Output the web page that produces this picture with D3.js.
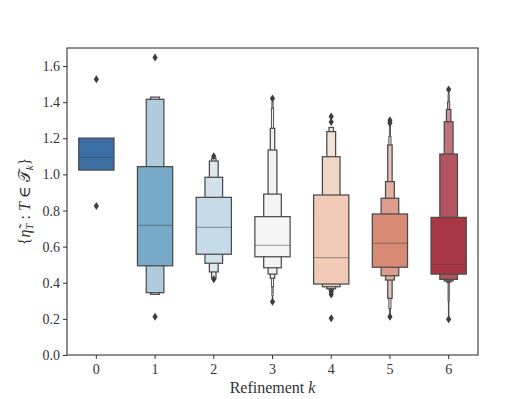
<!DOCTYPE html>
<html>
<head>
<meta charset="utf-8">
<script src="https://cdn.jsdelivr.net/npm/d3@7"></script>
<style>
  body { margin: 0; background: #fff; }
  text { font-family: "Liberation Serif", "DejaVu Serif", serif; }
</style>
</head>
<body>
<svg id="chart" width="531" height="399"></svg>
<script>
  // letter-value plot, one entry per refinement level
  var categories = ['0', '1', '2', '3', '4', '5', '6']
  var palette = ['#3a6ea5', '#76aac8', '#c5dbe8', '#f5f5f5', '#f1cbb6', '#d88a75', '#a83644']
  var medians = [1.094, 0.718, 0.707, 0.607, 0.539, 0.618, 0.502]

  // box ends from the innermost box outward
  var boxLows = [
    [1.024],
    [0.494, 0.345, 0.336],
    [0.558, 0.508, 0.460, 0.425],
    [0.544, 0.483, 0.448, 0.425, 0.378, 0.33, 0.30],
    [0.393, 0.378, 0.367, 0.36],
    [0.486, 0.439, 0.415, 0.314, 0.258, 0.22],
    [0.448, 0.419, 0.410, 0.405, 0.40, 0.30, 0.21]
  ]
  var boxHighs = [
    [1.201],
    [1.043, 1.416, 1.428],
    [0.873, 0.984, 1.074, 1.089],
    [0.766, 0.891, 1.135, 1.255, 1.366, 1.40, 1.41],
    [0.886, 1.098, 1.237, 1.26],
    [0.781, 0.868, 0.960, 1.163, 1.209, 1.29],
    [0.762, 1.113, 1.292, 1.360, 1.402, 1.44, 1.46]
  ]
  var outliers = [
    [1.527, 0.825],
    [1.648, 0.212],
    [1.10, 0.42],
    [1.42, 0.295],
    [1.32, 1.29, 0.35, 0.335, 0.203],
    [1.30, 1.285, 0.212],
    [1.47, 0.198]
  ]
  var yTicks = [0.0, 0.2, 0.4, 0.6, 0.8, 1.0, 1.2, 1.4, 1.6]

  var margin = { top: 48, right: 53, bottom: 44, left: 67 }
  var svg = d3.select('#chart')
  var width = +svg.attr('width') - margin.left - margin.right
  var height = +svg.attr('height') - margin.top - margin.bottom
  var g = svg.append('g').attr('transform', 'translate(' + margin.left + ',' + margin.top + ')')

  var x = d3.scaleBand().domain(categories).range([0, width]).padding(0)
  var y = d3.scaleLinear().domain([0, 1.7]).range([height, 0])

  var edge = '#4a4a4a'
  var serif = '"Liberation Serif", "DejaVu Serif", serif'

  function levelColor (base, i, n) {
    var light = d3.hsl(base)
    light.l = 0.93
    light.s = light.s * 0.4
    var t = n > 1 ? i / (n - 1) : 0
    return d3.interpolateRgb(base, light.toString())(t)
  }

  categories.forEach(function (c, ci) {
    var cx = x(c) + x.bandwidth() / 2
    var lows = boxLows[ci]
    var highs = boxHighs[ci]
    var n = lows.length
    var cg = g.append('g')
    // draw outer boxes first so the inner ones sit on top
    for (var i = n - 1; i >= 0; i--) {
      var w = x.bandwidth() * 0.6 * Math.pow(2, -i)
      cg.append('rect')
        .attr('x', cx - w / 2)
        .attr('width', w)
        .attr('y', y(highs[i]))
        .attr('height', y(lows[i]) - y(highs[i]))
        .attr('fill', levelColor(palette[ci], i, n))
        .attr('stroke', edge)
        .attr('stroke-width', w < 3 ? 0.9 : 1.25)
    }
    var mw = x.bandwidth() * 0.6
    cg.append('line')
      .attr('x1', cx - mw / 2)
      .attr('x2', cx + mw / 2)
      .attr('y1', y(medians[ci]))
      .attr('y2', y(medians[ci]))
      .attr('stroke', edge)
      .attr('stroke-opacity', 0.45)
      .attr('stroke-width', 1.25)
    cg.selectAll('path.out')
      .data(outliers[ci])
      .enter().append('path')
      .attr('class', 'out')
      .attr('d', 'M0,-4L2.6,0L0,4L-2.6,0Z')
      .attr('transform', function (d) { return 'translate(' + cx + ',' + y(d) + ')' })
      .attr('fill', '#3d3d3d')
  })

  // axes
  var yAxis = g.append('g')
    .call(d3.axisLeft(y).tickValues(yTicks).tickFormat(d3.format('.1f')).tickSize(4).tickSizeOuter(0).tickPadding(3))
  var xAxis = g.append('g')
    .attr('transform', 'translate(0,' + height + ')')
    .call(d3.axisBottom(x).tickSize(4).tickSizeOuter(0).tickPadding(5))
  ;[yAxis, xAxis].forEach(function (a) {
    a.attr('font-family', serif).attr('font-size', null)
    a.select('.domain').remove()
    a.selectAll('.tick line').attr('stroke', '#333').attr('stroke-width', 1)
    a.selectAll('.tick text').attr('fill', '#333').style('font-family', serif).style('font-size', '14px')
  })

  g.append('rect')
    .attr('width', width)
    .attr('height', height)
    .attr('fill', 'none')
    .attr('stroke', '#333')
    .attr('stroke-width', 1.1)

  svg.append('text')
    .attr('x', margin.left + width / 2)
    .attr('y', 393)
    .attr('text-anchor', 'middle')
    .attr('fill', '#333')
    .style('font-size', '16px')
    .text('Refinement ')
    .append('tspan').style('font-style', 'italic').text('k')

  var yl = svg.append('text')
    .attr('transform', 'translate(30,' + (margin.top + height / 2) + ') rotate(-90)')
    .attr('text-anchor', 'middle')
    .attr('fill', '#333')
    .style('font-size', '16px')
  yl.append('tspan').text('{')
  yl.append('tspan').style('font-style', 'italic').text('\u03B7\u0303')
  yl.append('tspan').style('font-style', 'italic').style('font-size', '11px').attr('dy', 3).text('T')
  yl.append('tspan').attr('dy', -3).text(' : ')
  yl.append('tspan').style('font-style', 'italic').text('T')
  yl.append('tspan').text(' \u2208 ')
  yl.append('tspan').style('font-family', 'DejaVu Sans').text('\uD835\uDCAF')
  yl.append('tspan').style('font-style', 'italic').style('font-size', '11px').attr('dy', 3).text('k')
  yl.append('tspan').attr('dy', -3).text('}')
</script>
</body>
</html>
